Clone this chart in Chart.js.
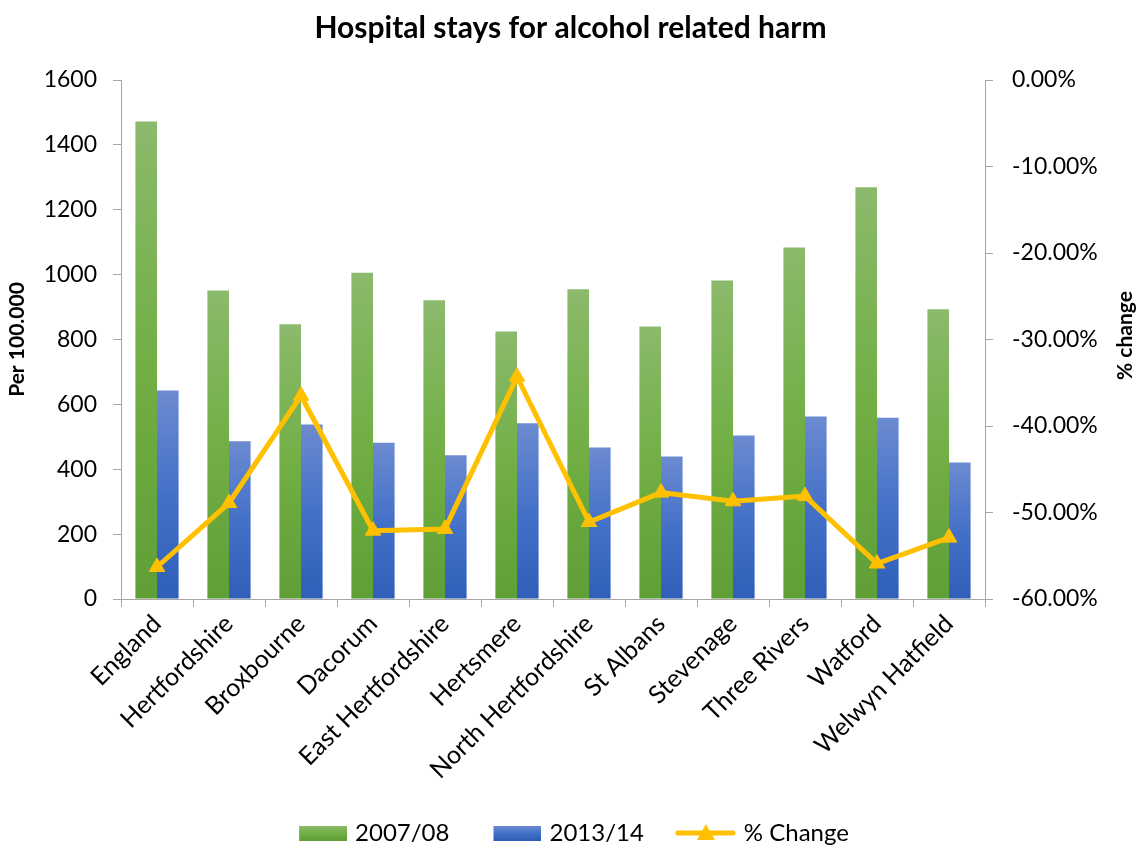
<!DOCTYPE html>
<html><head><meta charset="utf-8">
<script src="https://cdn.jsdelivr.net/npm/chart.js@4/dist/chart.umd.min.js"></script>
<style>html,body{margin:0;padding:0;background:#fff}#wrap{width:1141px;height:845px}</style>
</head><body><div id="wrap"><canvas id="c" width="1141" height="845"></canvas></div>
<script>
const categories = ['England','Hertfordshire','Broxbourne','Dacorum','East Hertfordshire','Hertsmere','North Hertfordshire','St Albans','Stevenage','Three Rivers','Watford','Welwyn Hatfield'];
const values2007 = [1472, 951, 847, 1006, 921, 825, 955, 840, 982, 1084, 1269, 893];
const values2013 = [643, 486, 538, 482, 443, 542, 467, 439, 504, 563, 559, 421];
const pctChange = [-0.563, -0.489, -0.365, -0.521, -0.519, -0.343, -0.511, -0.477, -0.487, -0.481, -0.559, -0.529];
const seriesNames = ['2007/08', '2013/14', '% Change'];
const leftAxisRange = [0, 1600, 200];
const rightAxisRange = [-0.6, 0, 0.1];

const FONT = 'Lato, "Open Sans", sans-serif';
const AXIS = '#A6A6A6';
const GREEN = ['#8BBA6C', '#72AF45', '#5F9F35'];
const BLUE = ['#6C8BD0', '#4471C8', '#2F5FB8'];
const GOLD = '#FFC000';

function barGrad(c, cols) {
  const chart = c.chart;
  if (!chart.chartArea || c.raw == null || !chart.scales.y) return cols[1];
  const y = chart.scales.y;
  const t = y.getPixelForValue(c.raw), b = y.getPixelForValue(0);
  const g = chart.ctx.createLinearGradient(0, t, 0, b);
  g.addColorStop(0, cols[0]); g.addColorStop(0.5, cols[1]); g.addColorStop(1, cols[2]);
  return g;
}

const LW = 86, EXTRA = 8, CW = LW + EXTRA;
function rectIcon(cols) {
  const cv = document.createElement('canvas'); cv.width = CW; cv.height = 16;
  const x = cv.getContext('2d');
  const g = x.createLinearGradient(0, 1, 0, 15);
  g.addColorStop(0, cols[0]); g.addColorStop(0.5, cols[1]); g.addColorStop(1, cols[2]);
  x.fillStyle = g; x.fillRect(CW - 48, 1, 48, 15);
  return cv;
}
function lineIcon() {
  const cv = document.createElement('canvas'); cv.width = CW; cv.height = 20;
  const x = cv.getContext('2d');
  x.strokeStyle = GOLD; x.lineWidth = 5; x.lineCap = 'round';
  x.beginPath(); x.moveTo(CW - 58, 10); x.lineTo(CW - 3, 10); x.stroke();
  x.fillStyle = GOLD; x.beginPath();
  const cx = CW - 30; x.moveTo(cx, 1); x.lineTo(cx + 9, 17); x.lineTo(cx - 9, 17); x.closePath(); x.fill();
  return cv;
}
const icons = [rectIcon(GREEN), rectIcon(BLUE), lineIcon()];

const rightTitle = {
  id: 'rightTitle',
  afterDraw(chart) {
    const a = chart.chartArea, ctx = chart.ctx;
    ctx.save();
    ctx.translate(1125, (a.top + a.bottom) / 2 - 4);
    ctx.rotate(-Math.PI / 2);
    ctx.font = 'bold 21px ' + FONT;
    ctx.fillStyle = '#000'; ctx.textAlign = 'center'; ctx.textBaseline = 'middle';
    ctx.fillText('% change', 0, 0);
    ctx.restore();
  }
};

new Chart(document.getElementById('c'), {
  data: {
    labels: categories,
    datasets: [
      { type: 'bar', label: seriesNames[0], data: values2007, yAxisID: 'y', order: 2,
        backgroundColor: c => barGrad(c, GREEN), barPercentage: 1, categoryPercentage: 0.6 },
      { type: 'bar', label: seriesNames[1], data: values2013, yAxisID: 'y', order: 2,
        backgroundColor: c => barGrad(c, BLUE), barPercentage: 1, categoryPercentage: 0.6 },
      { type: 'line', label: seriesNames[2], data: pctChange, yAxisID: 'y1', order: 1,
        borderColor: GOLD, backgroundColor: GOLD, borderWidth: 5, tension: 0,
        pointStyle: 'triangle', pointRadius: 9, pointBackgroundColor: GOLD, pointBorderColor: GOLD, pointBorderWidth: 1 }
    ]
  },
  options: {
    responsive: false, animation: false, devicePixelRatio: 1,
    layout: { padding: { left: 0, right: 0, top: 0, bottom: -10 } },
    plugins: {
      tooltip: { enabled: false },
      title: { display: true, text: 'Hospital stays for alcohol related harm', color: '#000',
        font: { family: FONT, size: 30, weight: 'bold', lineHeight: 1.2 }, padding: { top: 10, bottom: 34 } },
      legend: { position: 'bottom', fullSize: false,
        labels: { usePointStyle: true, pointStyleWidth: LW, padding: 2, color: '#000',
          font: { family: FONT, size: 24 },
          generateLabels: chart => seriesNames.map((n, i) => ({ text: n, pointStyle: icons[i], datasetIndex: i, hidden: false, lineWidth: 0, fontColor: '#000' })) } }
    },
    scales: {
      x: {
        offset: true,
        grid: { display: true, drawOnChartArea: false, drawTicks: true, tickLength: 8, color: AXIS, offset: true },
        border: { display: true, color: AXIS },
        ticks: { maxRotation: 45, minRotation: 45, autoSkip: false, color: '#000', padding: 2, font: { family: FONT, size: 25 } },
        afterFit: s => { s.height = 220; }
      },
      y: {
        position: 'left', min: leftAxisRange[0], max: leftAxisRange[1],
        ticks: { stepSize: leftAxisRange[2], padding: 16, color: '#000', font: { family: FONT, size: 23 },
          callback: v => String(v) },
        grid: { drawOnChartArea: false, drawTicks: true, tickLength: 8, color: AXIS },
        border: { display: true, color: AXIS },
        title: { display: true, text: 'Per 100.000', color: '#000', font: { family: FONT, size: 21, weight: 'bold', lineHeight: 1.2 }, padding: { top: 5, bottom: 0 } },
        afterFit: s => { s.width = 121; }
      },
      y1: {
        position: 'right', min: rightAxisRange[0], max: rightAxisRange[1],
        ticks: { stepSize: rightAxisRange[2], padding: 19, color: '#000', font: { family: FONT, size: 23 },
          callback: v => (Math.round(v * 10000) / 100).toFixed(2) + '%' },
        grid: { drawOnChartArea: false, drawTicks: true, tickLength: 8, color: AXIS },
        border: { display: true, color: AXIS },
        afterFit: s => { s.width = 156; }
      }
    }
  },
  plugins: [rightTitle]
});
</script></body></html>
